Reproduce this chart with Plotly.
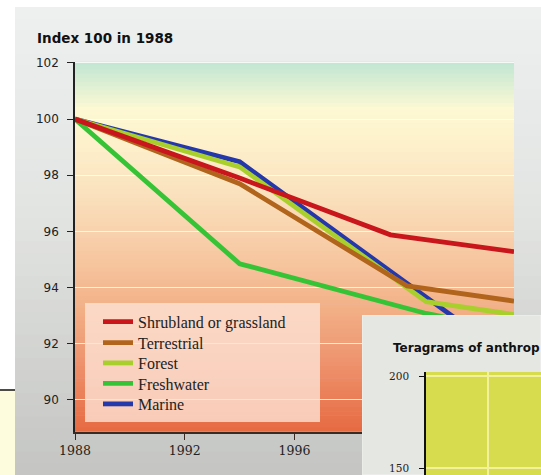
import plotly.graph_objects as go

# ---------------- data ----------------
series_names = ["Shrubland or grassland", "Terrestrial", "Forest", "Freshwater", "Marine"]
shrub_years = [1988, 1994, 1999.5, 2004]
shrub_vals = [100, 97.9, 95.88, 95.28]
terr_years = [1988, 1994, 2000.1, 2004]
terr_vals = [100, 97.7, 94.06, 93.52]
forest_years = [1988, 1994, 2000.8, 2004]
forest_vals = [100, 98.3, 93.5, 93.04]
fresh_years = [1988, 1994, 2000.8, 2004]
fresh_vals = [100, 94.85, 93.08, 92.45]
marine_years = [1988, 1994, 2000, 2004]
marine_vals = [100, 98.48, 94.22, 91.4]
x_ticks = [1988, 1992, 1996, 2000, 2004]
y_ticks = [90, 92, 94, 96, 98, 100, 102]
inset_y_ticks = [150, 200]

colors = {
    "Shrubland or grassland": "#c8161c",
    "Terrestrial": "#b0641c",
    "Forest": "#a8cf2c",
    "Freshwater": "#36c436",
    "Marine": "#2438ac",
}

W, H = 541, 475
OFF = 0
X_RANGE = [1988, 2004]
Y_RANGE = [88.87, 102.05]
Y3_RANGE = [146.2, 202.2]


def px_x(p):
    return max(0.0, min(1.0, (p - OFF) / W))


def px_y(p):
    return max(0.0, min(1.0, 1 - (p - OFF) / H))


def lerp_color(stops, t):
    for i in range(len(stops) - 1):
        t0, c0 = stops[i]
        t1, c1 = stops[i + 1]
        if t0 <= t <= t1:
            f = (t - t0) / (t1 - t0) if t1 > t0 else 0
            a = [int(c0[k:k + 2], 16) for k in (1, 3, 5)]
            b = [int(c1[k:k + 2], 16) for k in (1, 3, 5)]
            c = [round(a[j] + (b[j] - a[j]) * f) for j in range(3)]
            return "rgb(%d,%d,%d)" % tuple(c)
    return stops[-1][1]


# main plot area in (reference) pixels
plot_top, plot_bot = 61.5, 431.7
pl, pr = 75, 514
ph = plot_bot - plot_top
pw = pr - pl


def data_x(p):
    return X_RANGE[0] + (p - pl) / pw * (X_RANGE[1] - X_RANGE[0])


def data_y(p):
    return Y_RANGE[0] + (plot_bot - p) / ph * (Y_RANGE[1] - Y_RANGE[0])


fig = go.Figure()

order = [
    ("Marine", marine_years, marine_vals, "legend5"),
    ("Freshwater", fresh_years, fresh_vals, "legend4"),
    ("Forest", forest_years, forest_vals, "legend3"),
    ("Terrestrial", terr_years, terr_vals, "legend2"),
    ("Shrubland or grassland", shrub_years, shrub_vals, "legend"),
]
for name, xs, ys, lg in order:
    fig.add_trace(go.Scatter(
        x=xs, y=ys, mode="lines", name=name, legend=lg,
        line=dict(color=colors[name], width=4.8),
        hoverinfo="skip",
    ))

# placeholder traces so that the inset subplots exist
fig.add_trace(go.Scatter(x=[None], y=[None], xaxis="x2", yaxis="y2",
                         showlegend=False, hoverinfo="skip"))
fig.add_trace(go.Scatter(x=[None], y=[None], xaxis="x3", yaxis="y3",
                         showlegend=False, hoverinfo="skip"))

shapes = []

# outer page strip / panel
shapes.append(dict(type="rect", xref="paper", yref="paper", x0=0, x1=px_x(15),
                   y0=0, y1=px_y(390), fillcolor="#fdfcdc", line_width=0, layer="below"))
shapes.append(dict(type="line", xref="paper", yref="paper", x0=0, x1=px_x(15),
                   y0=px_y(390), y1=px_y(390), line=dict(color="#111111", width=1.5), layer="below"))
panel_stops = [(0.0, "#eef0f0"), (0.45, "#e2e4e2"), (1.0, "#c4c5c2")]
N = 40
for i in range(N):
    t0 = i / N
    t1 = (i + 1) / N
    ytop = 7 + (H - 7) * t0
    ybot = 7 + (H - 7) * t1
    shapes.append(dict(type="rect", xref="paper", yref="paper",
                       x0=px_x(15), x1=1, y0=max(0.0, px_y(ybot + 0.5) - 0.02), y1=px_y(ytop),
                       fillcolor=lerp_color(panel_stops, (t0 + t1) / 2),
                       line_width=0, layer="below"))

# main plot gradient (fraction from top of the plot area)
grad_stops = [(0.0, "#bfe6d3"), (0.13, "#fdf9d3"), (0.2, "#fdf3cc"), (0.35, "#fbe2bf"),
              (0.5, "#f7cca6"), (0.65, "#f3b38a"), (0.8, "#ee9670"), (1.0, "#e66a42")]
M = 90
for i in range(M):
    t0 = i / M
    t1 = (i + 1) / M
    shapes.append(dict(type="rect", xref="x", yref="y",
                       x0=X_RANGE[0], x1=X_RANGE[1],
                       y0=data_y(plot_top + ph * t1 + 0.6), y1=data_y(plot_top + ph * t0),
                       fillcolor=lerp_color(grad_stops, (t0 + t1) / 2),
                       line_width=0, layer="below"))

# legend box (between grid and traces)
shapes.append(dict(type="rect", xref="x", yref="y",
                   x0=data_x(85), x1=data_x(320), y0=data_y(422), y1=data_y(303),
                   fillcolor="rgba(252,226,212,0.8)", line_width=0, layer="between"))

# inset panel (subplot 2 spans the whole panel)
shapes.append(dict(type="rect", xref="x2", yref="y2",
                   x0=0, x1=1, y0=0, y1=1, fillcolor="#e5e7e3",
                   line=dict(color="#f2f3f0", width=1), layer="below"))
# inset plot area
shapes.append(dict(type="rect", xref="x3", yref="y3",
                   x0=0, x1=1, y0=Y3_RANGE[0], y1=Y3_RANGE[1], fillcolor="#d6dc4e",
                   line_width=0, layer="below"))

tickfont = dict(family="DejaVu Sans", size=12, color="#222222")

legend_rows = [321.7, 342.7, 363.0, 383.5, 404.0]
legend_keys = ["legend", "legend2", "legend3", "legend4", "legend5"]
legend_cfg = {}
for key, row in zip(legend_keys, legend_rows):
    legend_cfg[key] = dict(
        x=px_x(98), y=px_y(row - 17), xanchor="left", yanchor="top",
        bgcolor="rgba(0,0,0,0)", borderwidth=0,
        font=dict(family="Liberation Serif", size=16, color="#222222"),
    )

fig.update_layout(
    template="none",
    width=W, height=H, autosize=False,
    margin=dict(l=0, r=0, t=0, b=0, pad=0, autoexpand=False),
    paper_bgcolor="#ffffff",
    plot_bgcolor="rgba(0,0,0,0)",
    showlegend=True,
    xaxis=dict(
        domain=[px_x(pl), px_x(pr)], range=X_RANGE, automargin=False,
        tickvals=x_ticks, ticktext=[str(v) for v in x_ticks],
        showgrid=False, zeroline=False,
        showline=True, linecolor="#3a2a22", linewidth=2,
        ticks="outside", ticklen=6, tickcolor="#3a2a22", tickwidth=1,
        tickfont=dict(family="DejaVu Serif", size=12.5, color="#222222"),
    ),
    yaxis=dict(
        domain=[px_y(plot_bot), px_y(plot_top)], range=Y_RANGE, automargin=False,
        tickvals=y_ticks, ticktext=[str(v) for v in y_ticks],
        showgrid=True, gridcolor="rgba(255,255,255,0.8)", gridwidth=1.2,
        zeroline=False,
        showline=True, linecolor="#222222", linewidth=1.5,
        ticks="outside", ticklen=6, tickcolor="#222222", tickwidth=1,
        ticklabelstandoff=6,
        tickfont=tickfont,
    ),
    xaxis2=dict(domain=[px_x(362), 1], range=[0, 1], visible=False, anchor="y2",
                automargin=False),
    yaxis2=dict(domain=[0, px_y(315)], range=[0, 1], visible=False, anchor="x2",
                automargin=False),
    xaxis3=dict(domain=[px_x(426), 1], range=[0, 1], anchor="y3", automargin=False,
                tickvals=[0.54], showticklabels=False, ticks="",
                showgrid=True, gridcolor="#f2f29c", gridwidth=1.5,
                zeroline=False, showline=False),
    yaxis3=dict(domain=[0, px_y(372)], range=Y3_RANGE, anchor="x3", automargin=False,
                tickvals=inset_y_ticks, ticktext=[str(v) for v in inset_y_ticks],
                showgrid=True, gridcolor="#f2f29c", gridwidth=1.5, zeroline=False,
                showline=True, linecolor="#111111", linewidth=1.5,
                ticks="outside", ticklen=5, tickcolor="#111111",
                ticklabelstandoff=8, ticklabeloverflow="allow",
                tickfont=dict(family="DejaVu Serif", size=10.5, color="#222222")),
    shapes=shapes,
    annotations=[
        dict(text="Index 100 in 1988", xref="paper", yref="paper",
             x=px_x(35), y=px_y(37.5), xanchor="left", yanchor="middle",
             showarrow=False,
             font=dict(family="DejaVu Sans", size=13.5, color="#111111", weight="bold")),
        dict(text="Teragrams of anthrop", xref="paper", yref="paper",
             x=px_x(391), y=px_y(348), xanchor="left", yanchor="middle",
             showarrow=False,
             font=dict(family="DejaVu Sans", size=12, color="#111111", weight="bold")),
    ],
    **legend_cfg,
)

fig.write_html(
    "out.html",
    config={"displayModeBar": False},
    post_script="document.body.style.margin='0';document.body.style.overflow='hidden';",
)
